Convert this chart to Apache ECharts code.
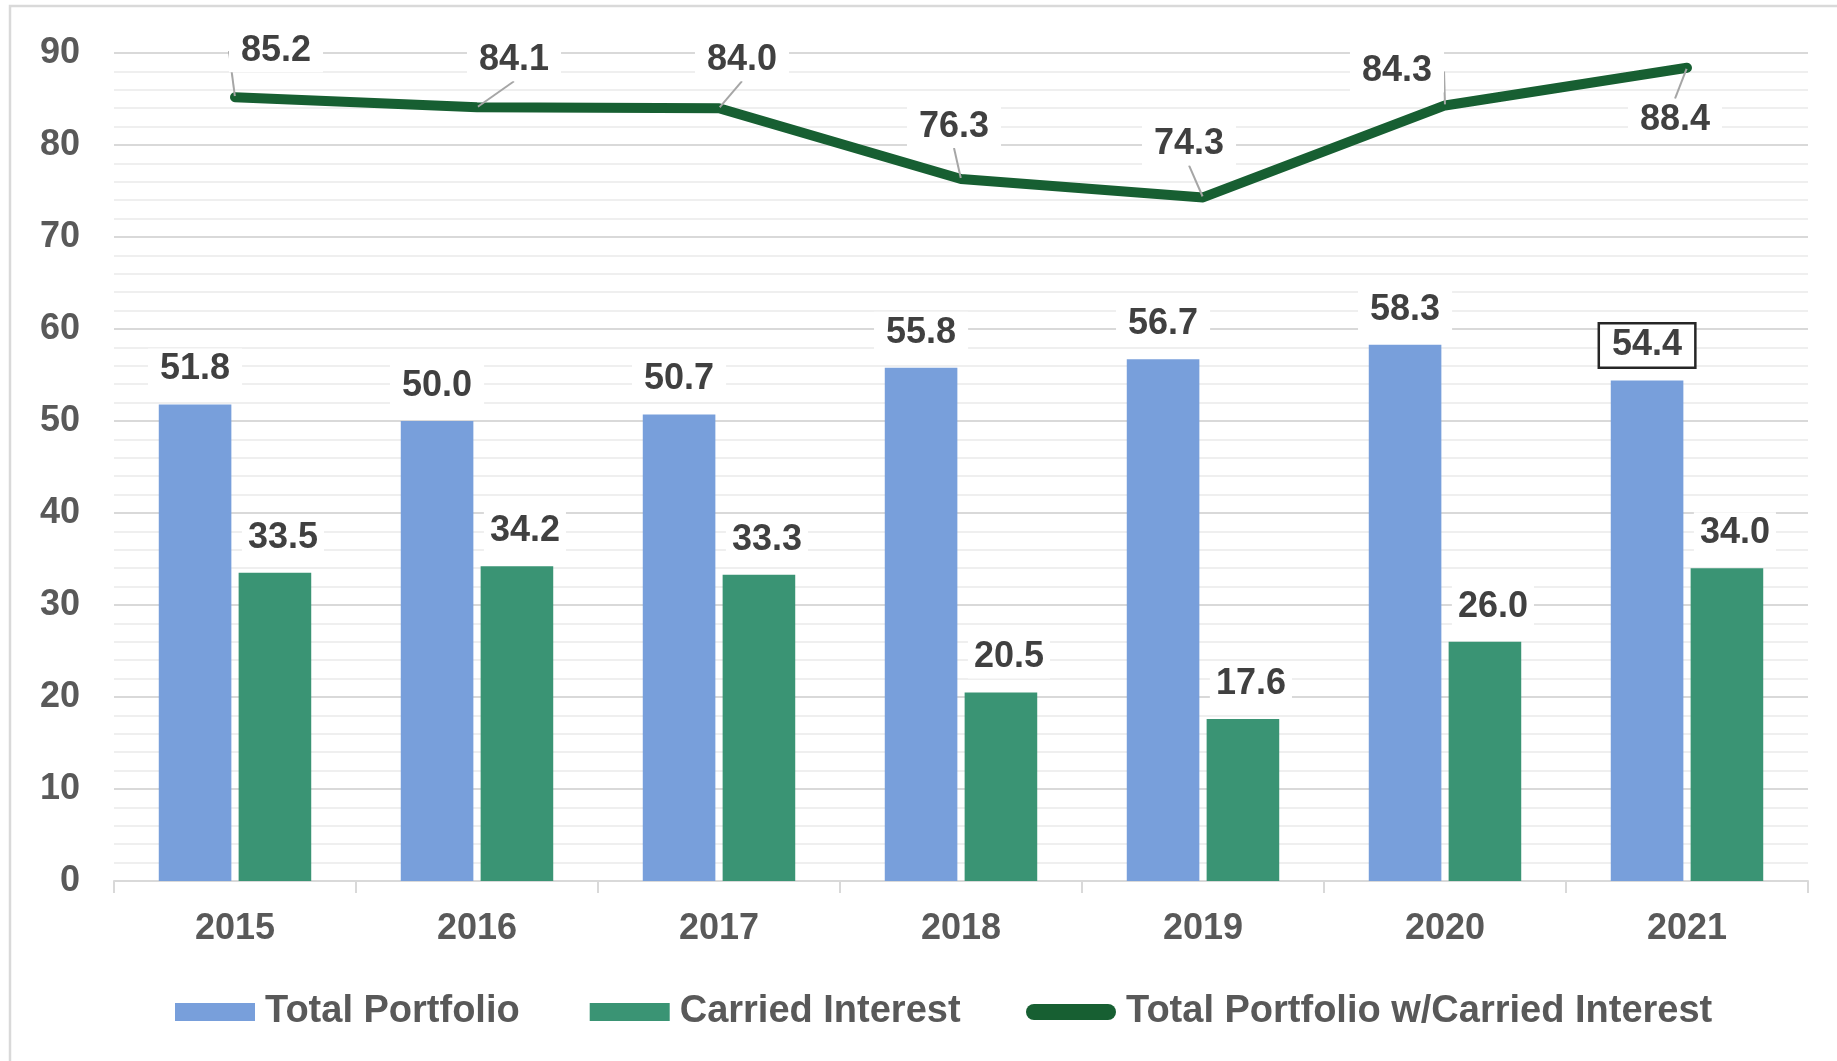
<!DOCTYPE html>
<html>
<head>
<meta charset="utf-8">
<title>Total Portfolio vs Carried Interest</title>
<script src="https://cdn.jsdelivr.net/npm/echarts@6/dist/echarts.min.js"></script>
<style>
    html, body { margin: 0; padding: 0; background: #fff; }
    #main { width: 1837px; height: 1061px; }
</style>
</head>
<body>
<div id="main"></div>
<script>
var years = ['2015', '2016', '2017', '2018', '2019', '2020', '2021'];
var totalPortfolio = [51.8, 50.0, 50.7, 55.8, 56.7, 58.3, 54.4];
var carriedInterest = [33.5, 34.2, 33.3, 20.5, 17.6, 26.0, 34.0];
var totalWithCarried = [85.2, 84.1, 84.0, 76.3, 74.3, 84.3, 88.4];
var yTicks = [0, 10, 20, 30, 40, 50, 60, 70, 80, 90];

// where Excel put the line labels, relative to each point (px)
var lineLabelShift = [[41, -46], [37, -47], [23, -48], [-7, -52], [-14, -53], [-48, -34], [-12, 52]];

var FONT = "'Liberation Sans', Arial, sans-serif";

function oneDecimal(p) { return p.value.toFixed(1); }

var totalData = totalPortfolio.map(function (v, i) {
    if (i === totalPortfolio.length - 1) {
        return { value: v, label: { borderColor: '#262626', borderWidth: 2.5 } };
    }
    return v;
});

var legendText = {
    fontFamily: FONT,
    fontSize: 38,
    lineHeight: 38,
    fontWeight: 'bold',
    color: '#595959',
    padding: [0, 0, 0, 5]
};

var option = {
    animation: false,
    backgroundColor: '#fff',
    textStyle: { fontFamily: FONT },
    graphic: [{
        type: 'rect',
        shape: { x: 10, y: 6, width: 1860, height: 1080 },
        style: { fill: 'none', stroke: '#d9d9d9', lineWidth: 2.5 },
        silent: true
    }],
    grid: {
        left: 114,
        right: 29,
        top: 53,
        bottom: 180
    },
    legend: [{
        left: 170,
        top: 988,
        itemWidth: 80,
        itemHeight: 18,
        itemGap: 70,
        textStyle: legendText,
        data: [
            { name: 'Total Portfolio', icon: 'rect' },
            { name: 'Carried Interest', icon: 'rect' }
        ]
    }, {
        left: 1021,
        top: 988,
        itemWidth: 90,
        itemHeight: 16,
        textStyle: legendText,
        data: [
            { name: 'Total Portfolio w/Carried Interest', icon: 'path://M8,0 L82,0 A8,8 0 0 1 82,16 L8,16 A8,8 0 0 1 8,0 Z' }
        ]
    }],
    xAxis: {
        type: 'category',
        data: years,
        axisLine: { lineStyle: { color: '#d9d9d9', width: 2 } },
        axisTick: { show: true, length: 12, lineStyle: { color: '#d9d9d9', width: 2 } },
        axisLabel: {
            fontFamily: FONT,
            fontSize: 36,
            fontWeight: 'bold',
            color: '#595959',
            margin: 30
        }
    },
    yAxis: {
        type: 'value',
        min: yTicks[0],
        max: yTicks[yTicks.length - 1],
        interval: 10,
        axisLine: { show: false },
        axisTick: { show: false },
        axisLabel: {
            fontFamily: FONT,
            fontSize: 36,
            fontWeight: 'bold',
            color: '#595959',
            margin: 34
        },
        splitLine: { lineStyle: { color: '#d9d9d9', width: 2 } },
        minorTick: { show: false, splitNumber: 5 },
        minorSplitLine: { show: true, lineStyle: { color: '#efefef', width: 2 } }
    },
    series: [
        {
            name: 'Total Portfolio',
            type: 'bar',
            data: totalData,
            barWidth: '30%',
            barGap: '10%',
            itemStyle: { color: '#789fdb' },
            label: {
                show: true,
                position: 'top',
                distance: 14,
                fontFamily: FONT,
                fontSize: 36,
                fontWeight: 'bold',
                lineHeight: 36,
                color: '#404040',
                backgroundColor: '#fff',
                padding: [3, 12],
                formatter: oneDecimal
            }
        },
        {
            name: 'Carried Interest',
            type: 'bar',
            data: carriedInterest,
            barWidth: '30%',
            itemStyle: { color: '#3a9474' },
            label: {
                show: true,
                position: 'top',
                distance: 14,
                offset: [8, 0],
                fontFamily: FONT,
                fontSize: 36,
                fontWeight: 'bold',
                lineHeight: 36,
                color: '#404040',
                backgroundColor: '#fff',
                padding: [3, 6],
                formatter: oneDecimal
            }
        },
        {
            name: 'Total Portfolio w/Carried Interest',
            type: 'line',
            data: totalWithCarried,
            symbol: 'circle',
            symbolSize: 2,
            z: 5,
            lineStyle: { color: '#175f32', width: 10, cap: 'round', join: 'round' },
            itemStyle: { color: '#175f32' },
            label: {
                show: true,
                position: 'inside',
                fontFamily: FONT,
                fontSize: 36,
                fontWeight: 'bold',
                lineHeight: 36,
                color: '#404040',
                backgroundColor: '#fff',
                padding: [3, 12],
                formatter: oneDecimal
            },
            labelLine: {
                show: true,
                lineStyle: { color: '#a6a6a6', width: 2 }
            },
            labelLayout: function (params) {
                var s = lineLabelShift[params.dataIndex];
                return { dx: s[0], dy: s[1] };
            }
        }
    ]
};

var myChart = echarts.init(document.getElementById('main'));
myChart.setOption(option);
</script>
</body>
</html>
